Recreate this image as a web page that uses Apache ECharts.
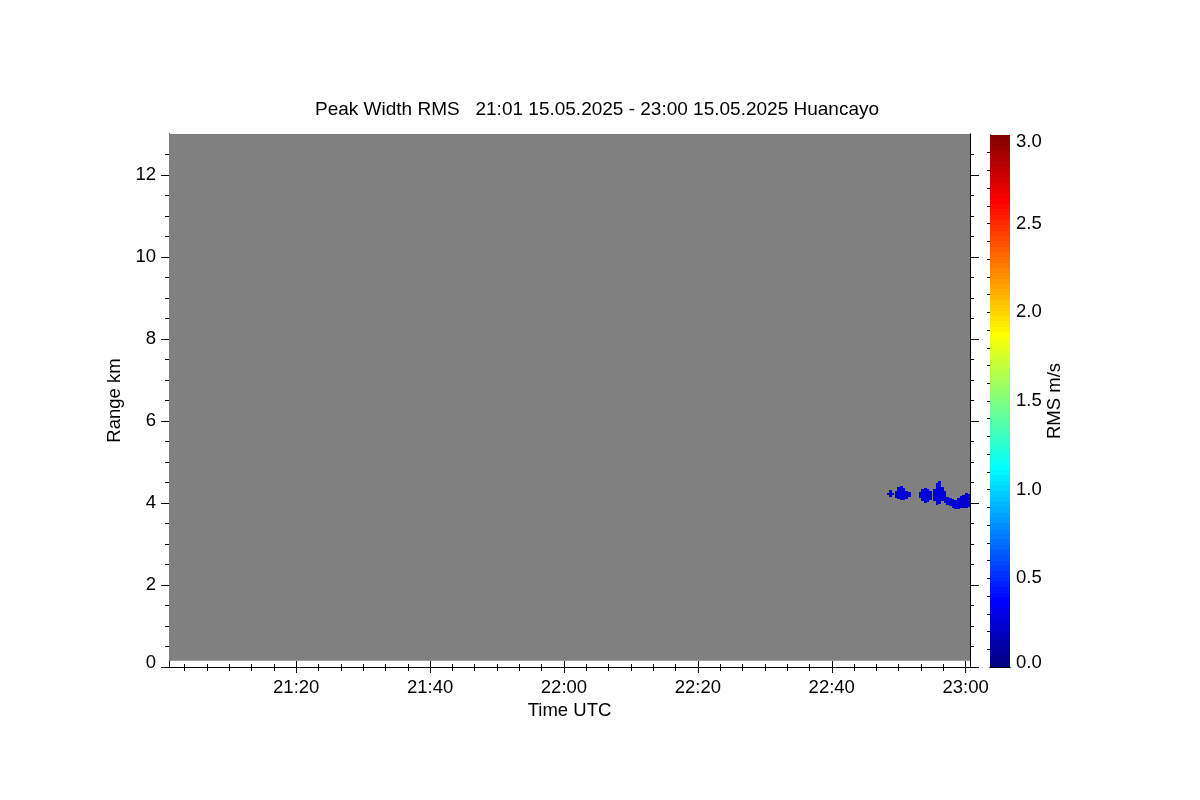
<!DOCTYPE html>
<html><head><meta charset="utf-8">
<script src="https://cdn.jsdelivr.net/npm/echarts@6/dist/echarts.min.js"></script>
<style>html,body{margin:0;background:#fff}#c{width:1200px;height:800px}</style>
</head><body><div id="c"></div>
<script>
// ---------------- data (time in minutes after 21:00 UTC, range in km) ----------------
const TITLE = 'Peak Width RMS   21:01 15.05.2025 - 23:00 15.05.2025 Huancayo';
const timeMin = 1, timeMax = 120.65;
const rangeMin = 0, rangeMax = 13;
const timeMajorTicks = [20, 40, 60, 80, 100, 120];
const timeMinorTicks = [];
for (let k = 1; k <= 36; k++) { if (k % 6 !== 0) timeMinorTicks.push(k * 10 / 3); }
const rangeMajorTicks = [0, 2, 4, 6, 8, 10, 12];
const rangeMinorTicks = [0.5,1,1.5,2.5,3,3.5,4.5,5,5.5,6.5,7,7.5,8.5,9,9.5,10.5,11,11.5,12.5];
const rmsLabelTicks = [0, 0.5, 1, 1.5, 2, 2.5, 3];
const rmsMinorTicks = [0.1,0.2,0.3,0.4,0.5,0.6,0.7,0.8,0.9,1,1.1,1.2,1.3,1.4,1.5,1.6,1.7,1.8,1.9,2,2.1,2.2,2.3,2.4,2.5,2.6,2.7,2.8,2.9];

// region with no echo (gray)
const noDataTime = [1, 120.65];
const noDataRange = [0.15, 13];

// echo columns near 4 km
const colStart = [108.2,108.6,109.0, 109.4,109.8,110.2,110.6,111.0,111.4, 113.0,113.4,113.8,114.2,114.6, 115.1,115.5,115.9,116.3,116.7, 117.1,117.5,117.9,118.3,118.7,119.1,119.5,119.9,120.3];
const colEnd   = [108.6,109.0,109.3, 109.8,110.2,110.6,111.0,111.4,111.8, 113.4,113.8,114.2,114.6,114.9, 115.5,115.9,116.3,116.7,117.1, 117.5,117.9,118.3,118.7,119.1,119.5,119.9,120.3,120.65];
const colLow   = [4.20,4.15,4.20, 4.12,4.10,4.08,4.07,4.10,4.14, 4.12,4.04,4.00,4.02,4.08, 4.05,3.95,3.98,4.05,4.00, 3.95,3.92,3.88,3.85,3.85,3.87,3.88,3.88,3.90];
const colHigh  = [4.25,4.32,4.25, 4.30,4.40,4.42,4.36,4.30,4.26, 4.28,4.34,4.37,4.35,4.30, 4.35,4.50,4.54,4.40,4.30, 4.15,4.12,4.10,4.08,4.12,4.18,4.20,4.25,4.22];
const colValue = [0.22,0.24,0.22, 0.23,0.25,0.26,0.24,0.23,0.22, 0.24,0.25,0.26,0.25,0.23, 0.24,0.26,0.27,0.25,0.24, 0.23,0.24,0.25,0.24,0.25,0.26,0.25,0.24,0.24];

// colour bar steps (legend)
const cbStep = 0.03;
const cbSteps = [];
for (let i = 0; i < 100; i++) cbSteps.push(i * cbStep);

// ---------------- chart ----------------
const FS = 18.5;
const font = { fontFamily: 'Liberation Sans', fontSize: FS, color: '#000' };
const black = { color: '#000', width: 1 };
const jet = ['#00007f','#0000ff','#007fff','#00ffff','#7fff7f','#ffff00','#ff7f00','#ff0000','#7f0000'];

function fmtTime(v) {
  const t = Math.round(v);
  const h = 21 + Math.floor(t / 60), m = t % 60;
  return h + ':' + (m < 10 ? '0' : '') + m;
}
function rectRender(params, api) {
  const p0 = api.coord([api.value(0), api.value(3)]);
  const p1 = api.coord([api.value(1), api.value(2)]);
  const x0 = Math.round(p0[0]), y0 = Math.round(p0[1]);
  const x1 = Math.round(p1[0]), y1 = Math.round(p1[1]);
  return { type: 'rect',
    shape: { x: x0, y: y0, width: Math.max(1, x1 - x0), height: Math.max(1, y1 - y0) },
    style: { fill: api.visual('color'), stroke: null, lineWidth: 0 } };
}
function tickOnlyAxis(grid, pos, min, max, ticks, len, inside) {
  return { type: 'value', gridIndex: grid, position: pos, min: min, max: max,
    axisLine: { show: true, lineStyle: black },
    axisTick: { show: ticks.length > 0, customValues: ticks, length: len, inside: !!inside, lineStyle: black },
    axisLabel: { show: false }, splitLine: { show: false } };
}

const patchData = colStart.map((s, i) => [s, colEnd[i], colLow[i], colHigh[i], colValue[i]]);
const cbData = cbSteps.map(v => [0, 1, v, v + cbStep, v + cbStep / 2]);

const chart = echarts.init(document.getElementById('c'), null, { renderer: 'canvas' });
chart.setOption({
  backgroundColor: '#fff',
  animation: false,
  title: { text: TITLE, left: 310, top: 95, textStyle: { fontFamily: 'Liberation Sans', fontSize: 19, fontWeight: 'normal', color: '#000' } },
  grid: [
    { left: 169, top: 134, width: 801, height: 533 },
    { left: 990, top: 135, width: 20, height: 532 }
  ],
  xAxis: [
    { type: 'value', gridIndex: 0, position: 'bottom', min: timeMin, max: timeMax,
      axisLine: { show: true, lineStyle: black },
      axisTick: { show: true, customValues: timeMajorTicks, length: 6, lineStyle: black },
      axisLabel: { show: true, customValues: timeMajorTicks, formatter: fmtTime, margin: 11, ...font },
      splitLine: { show: false },
      name: 'Time UTC', nameLocation: 'middle', nameGap: 32, nameTextStyle: font },
    tickOnlyAxis(0, 'bottom', timeMin, timeMax, timeMinorTicks, 4),
    tickOnlyAxis(0, 'top', timeMin, timeMax, timeMajorTicks, 6),
    tickOnlyAxis(0, 'top', timeMin, timeMax, timeMinorTicks, 3),
    tickOnlyAxis(1, 'bottom', 0, 1, [], 0),
    tickOnlyAxis(1, 'top', 0, 1, [], 0)
  ],
  yAxis: [
    { type: 'value', gridIndex: 0, position: 'left', min: rangeMin, max: rangeMax,
      axisLine: { show: true, lineStyle: black },
      axisTick: { show: true, customValues: rangeMajorTicks, length: 8, lineStyle: black },
      axisLabel: { show: true, customValues: rangeMajorTicks, margin: 13, ...font,
        formatter: v => v === 0 ? '{z|0}' : String(v),
        rich: { z: { ...font, padding: [0, 0, 9, 0] } } },
      splitLine: { show: false },
      name: 'Range km', nameLocation: 'middle', nameGap: 45, nameTextStyle: font },
    tickOnlyAxis(0, 'left', rangeMin, rangeMax, rangeMinorTicks, 4),
    tickOnlyAxis(0, 'right', rangeMin, rangeMax, rangeMajorTicks, 9),
    tickOnlyAxis(0, 'right', rangeMin, rangeMax, rangeMinorTicks, 4),
    { type: 'value', gridIndex: 1, position: 'right', min: 0, max: 3,
      axisLine: { show: true, lineStyle: black },
      axisTick: { show: true, customValues: rmsMinorTicks, length: 3, inside: true, lineStyle: black },
      axisLabel: { show: true, customValues: rmsLabelTicks, margin: 6, ...font,
        formatter: v => v === 0 ? '{b|0.0}' : (v === 3 ? '{t|3.0}' : v.toFixed(1)),
        rich: { b: { ...font, padding: [0, 0, 9, 0] }, t: { ...font, padding: [13, 0, 0, 0] } } },
      splitLine: { show: false },
      name: 'RMS m/s', nameLocation: 'middle', nameRotate: 90, nameGap: 33, nameTextStyle: font },
    tickOnlyAxis(1, 'left', 0, 3, [], 0)
  ],
  visualMap: {
    type: 'continuous', show: false, min: 0, max: 3, dimension: 4,
    seriesIndex: [1, 2], inRange: { color: jet }
  },
  series: [
    { type: 'custom', name: 'no echo', xAxisIndex: 0, yAxisIndex: 0, silent: true,
      data: [[noDataTime[0], noDataTime[1], noDataRange[0], noDataRange[1]]],
      encode: { x: [0, 1], y: [2, 3] },
      renderItem: (params, api) => {
        const p0 = api.coord([api.value(0), api.value(3)]);
        const p1 = api.coord([api.value(1), api.value(2)]);
        return { type: 'rect', shape: { x: p0[0], y: p0[1], width: p1[0] - p0[0], height: p1[1] - p0[1] }, style: { fill: '#808080' } };
      } },
    { type: 'custom', name: 'RMS', xAxisIndex: 0, yAxisIndex: 0, data: patchData,
      encode: { x: [0, 1], y: [2, 3] }, renderItem: rectRender },
    { type: 'custom', name: 'colorbar', xAxisIndex: 4, yAxisIndex: 4, data: cbData,
      encode: { x: [0, 1], y: [2, 3] }, renderItem: rectRender, z: 1 }
  ]
});
</script></body></html>
